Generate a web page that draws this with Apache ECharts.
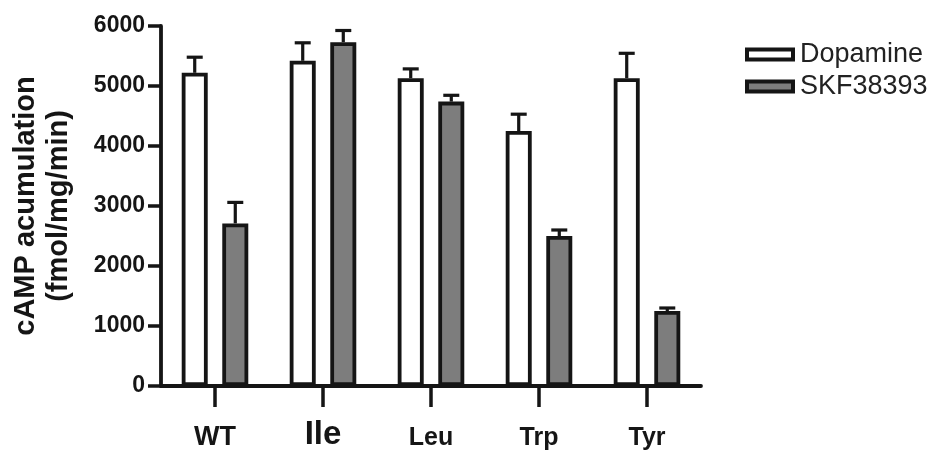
<!DOCTYPE html>
<html>
<head>
<meta charset="utf-8">
<script src="https://cdn.jsdelivr.net/npm/echarts@6/dist/echarts.min.js"></script>
<style>html,body{margin:0;padding:0;background:#fff;}#c{width:940px;height:451px;}</style>
</head>
<body>
<div id="c"></div>
<script>
const categories = ['WT', 'Ile', 'Leu', 'Trp', 'Tyr'];
const dopamine = [5220, 5420, 5130, 4250, 5130];
const dopamineErr = [260, 300, 155, 280, 415];
const skf = [2710, 5730, 4740, 2500, 1250];
const skfErr = [350, 195, 105, 100, 50];
const yMin = 0, yMax = 6000, yStep = 1000;

const BAR_W = 26, BAR_GAP = 0.56, BORDER = 3.8;
const FONT = '"Liberation Sans", Arial, sans-serif';
const INK = '#151515';

function errSeries(values, errs, side) {
  return {
    type: 'custom',
    z: 5,
    silent: true,
    data: values.map((v, i) => [i, v, errs[i]]),
    encode: { x: 0, y: 1 },
    renderItem: function (params, api) {
      const i = api.value(0), v = api.value(1), e = api.value(2);
      const base = api.coord([i, v]);
      const top = api.coord([i, v + e]);
      const off = side * (BAR_W + BAR_W * BAR_GAP) / 2;
      const x = base[0] + off;
      const style = { stroke: INK, lineWidth: 3.2 };
      return {
        type: 'group',
        children: [
          { type: 'line', shape: { x1: x, y1: base[1], x2: x, y2: top[1] }, style: style },
          { type: 'line', shape: { x1: x - 8, y1: top[1], x2: x + 8, y2: top[1] }, style: style }
        ]
      };
    }
  };
}

const chart = echarts.init(document.getElementById('c'));
chart.setOption({
  animation: false,
  backgroundColor: '#ffffff',
  grid: { left: 161, right: 239, top: 26, bottom: 64, containLabel: false },
  legend: {
    data: ['Dopamine', 'SKF38393'],
    orient: 'vertical',
    left: 740,
    top: 36,
    itemWidth: 46,
    itemHeight: 10,
    itemGap: 5,
    icon: 'rect',
    itemStyle: { borderColor: INK, borderWidth: 4 },
    textStyle: { fontFamily: FONT, fontSize: 27, color: '#222', padding: [0, 0, 0, 2] }
  },
  xAxis: {
    type: 'category',
    data: categories,
    axisLine: { lineStyle: { color: INK, width: 3.8 } },
    axisTick: { show: true, inside: false, alignWithLabel: true, length: 21, lineStyle: { color: INK, width: 3.5 } },
    axisLabel: {
      margin: 29,
      color: INK,
      fontFamily: FONT,
      fontWeight: 'bold',
      formatter: function (v) {
        if (v === 'Ile') return '{big|' + v + '}';
        if (v === 'WT') return '{wt|' + v + '}';
        return '{n|' + v + '}';
      },
      rich: {
        big: { fontSize: 33, fontWeight: 'bold', fontFamily: FONT, color: INK, lineHeight: 36, verticalAlign: 'bottom' },
        wt: { fontSize: 27, fontWeight: 'bold', fontFamily: FONT, color: INK, lineHeight: 36, verticalAlign: 'bottom' },
        n: { fontSize: 25, fontWeight: 'bold', fontFamily: FONT, color: INK, lineHeight: 36, verticalAlign: 'bottom' }
      }
    }
  },
  yAxis: {
    type: 'value',
    min: yMin,
    max: yMax,
    interval: yStep,
    name: 'cAMP acumulation\n(fmol/mg/min)',
    nameLocation: 'middle',
    nameGap: 86,
    nameTextStyle: { fontFamily: FONT, fontSize: 29, fontWeight: 'bold', color: INK, lineHeight: 33 },
    axisLine: { show: true, lineStyle: { color: INK, width: 3.8 } },
    axisTick: { show: true, inside: false, length: 13, lineStyle: { color: INK, width: 3.5 } },
    splitLine: { show: false },
    axisLabel: {
      margin: 16, color: INK, fontFamily: FONT, fontWeight: 'bold', fontSize: 23,
      formatter: function (v) { return String(v); }
    }
  },
  series: [
    {
      name: 'Dopamine', type: 'bar', data: dopamine, barWidth: BAR_W, barGap: (BAR_GAP * 100) + '%',
      itemStyle: { color: '#ffffff', borderColor: INK, borderWidth: BORDER }
    },
    {
      name: 'SKF38393', type: 'bar', data: skf, barWidth: BAR_W, barGap: (BAR_GAP * 100) + '%',
      itemStyle: { color: '#7d7d7d', borderColor: INK, borderWidth: BORDER }
    },
    errSeries(dopamine, dopamineErr, -1),
    errSeries(skf, skfErr, 1)
  ]
});
</script>
</body>
</html>
